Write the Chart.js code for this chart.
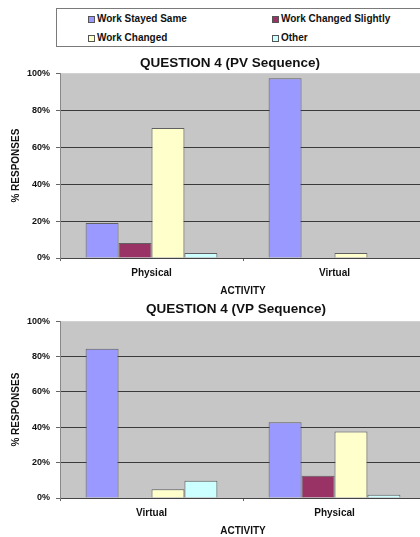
<!DOCTYPE html>
<html>
<head>
<meta charset="utf-8">
<script src="https://cdn.jsdelivr.net/npm/chart.js@4.4.1/dist/chart.umd.min.js"></script>
<style>
  html, body { margin: 0; padding: 0; background: #fff; overflow: hidden; width: 420px; height: 537px; }
  body { position: relative; font-family: 'Liberation Sans', Arial, sans-serif; }
  canvas { position: absolute; left: 0; }
  #c1 { top: 50px; }
  #c2 { top: 297px; }
  #legend {
    position: absolute; left: 56px; top: 8px; width: 380px; height: 37px;
    border: 1px solid #7a7a7a; background: #fff;
  }
  .item { position: absolute; font-weight: bold; font-size: 10px; color: #111; white-space: nowrap; line-height: 12px; }
  .sw { position: absolute; left: -9px; top: 3px; width: 5px; height: 5px; border: 1px solid #555; }
</style>
</head>
<body>
<div id="legend"></div>
<canvas id="c1" width="460" height="248"></canvas>
<canvas id="c2" width="472" height="241"></canvas>
<script>
// Response categories and their fill colours
const seriesNames = ['Work Stayed Same', 'Work Changed Slightly', 'Work Changed', 'Other'];
const seriesColors = ['#9999ff', '#993366', '#ffffcc', '#ccffff'];

// Question 4, physical task first then virtual
const pvCategories = ['Physical', 'Virtual'];
const pvStayedSame = [18.9, 97.3];
const pvChangedSlightly = [8.1, 0];
const pvChanged = [70.3, 2.7];
const pvOther = [2.7, 0];

// Question 4, virtual task first then physical
const vpCategories = ['Virtual', 'Physical'];
const vpStayedSame = [84.4, 42.9];
const vpChangedSlightly = [0, 12.6];
const vpChanged = [5.0, 37.6];
const vpOther = [9.8, 1.9];

const yTicks = [0, 20, 40, 60, 80, 100];

const FONT = "'Liberation Sans', Arial, sans-serif";

// legend box with two columns
const legendPos = [[40, 4], [224, 4], [40, 23], [224, 23]];
const legendEl = document.getElementById('legend');
seriesNames.forEach((name, i) => {
  const d = document.createElement('div');
  d.className = 'item';
  d.style.left = legendPos[i][0] + 'px';
  d.style.top = legendPos[i][1] + 'px';
  d.textContent = name;
  const s = document.createElement('span');
  s.className = 'sw';
  s.style.background = seriesColors[i];
  d.appendChild(s);
  legendEl.appendChild(d);
});

const plotBg = {
  id: 'plotBg',
  beforeDraw(chart) {
    const a = chart.chartArea;
    const ctx = chart.ctx;
    ctx.save();
    ctx.fillStyle = '#c6c6c6';
    ctx.fillRect(a.left, a.top, a.right - a.left, a.bottom - a.top);
    ctx.restore();
  }
};

function makeChart(id, title, cats, series, titlePad, rightGap) {
  return new Chart(document.getElementById(id), {
    type: 'bar',
    data: {
      labels: cats,
      datasets: series.map((vals, i) => ({
        label: seriesNames[i],
        data: vals,
        backgroundColor: seriesColors[i],
        borderColor: 'rgba(70,70,70,0.8)',
        borderWidth: 1,
        categoryPercentage: 0.72,
        barPercentage: 1.0
      }))
    },
    options: {
      responsive: false,
      animation: false,
      devicePixelRatio: 1,
      layout: { padding: 0 },
      plugins: {
        legend: { display: false },
        tooltip: { enabled: false },
        title: {
          display: true,
          text: title,
          color: '#111',
          font: { family: FONT, size: 13.5, weight: 'bold' },
          padding: titlePad
        }
      },
      scales: {
        x: {
          grid: { drawOnChartArea: false, drawTicks: true, tickLength: 3, color: '#666', offset: true },
          border: { display: true, color: '#444', width: 1 },
          ticks: { color: '#111', padding: 6, font: { family: FONT, size: 10, weight: 'bold' } },
          title: { display: true, text: 'ACTIVITY', color: '#111', padding: { top: 0, bottom: 1 },
                   font: { family: FONT, size: 10, weight: 'bold' } },
          afterFit(s) { s.height = 40; }
        },
        y: {
          min: 0, max: 100,
          afterBuildTicks(s) { s.ticks = yTicks.map(v => ({ value: v })); },
          grid: {
            color: c => (c.tick && c.tick.value === 100 ? 'rgba(0,0,0,0)' : '#3a3a3a'),
            tickColor: '#666', tickLength: 4, drawTicks: true
          },
          border: { display: true, color: '#888', width: 1 },
          ticks: { color: '#111', padding: 6, callback: v => v + '%',
                   font: { family: FONT, size: 9, weight: 'bold' } },
          title: { display: true, text: '% RESPONSES', color: '#111', padding: { top: 10, bottom: 0 },
                   font: { family: FONT, size: 10, weight: 'bold' } },
          afterFit(s) { s.width = 60; }
        },
        gap: {
          type: 'linear', position: 'right', display: true,
          grid: { display: false }, border: { display: false }, ticks: { display: false },
          afterFit(s) { s.width = rightGap; }
        }
      }
    },
    plugins: [plotBg]
  });
}

makeChart('c1', 'QUESTION 4 (PV Sequence)', pvCategories,
  [pvStayedSame, pvChangedSlightly, pvChanged, pvOther], { top: 5, bottom: 2 }, 34);
makeChart('c2', 'QUESTION 4 (VP Sequence)', vpCategories,
  [vpStayedSame, vpChangedSlightly, vpChanged, vpOther], { top: 4, bottom: 4 }, 46);
</script>
</body>
</html>
